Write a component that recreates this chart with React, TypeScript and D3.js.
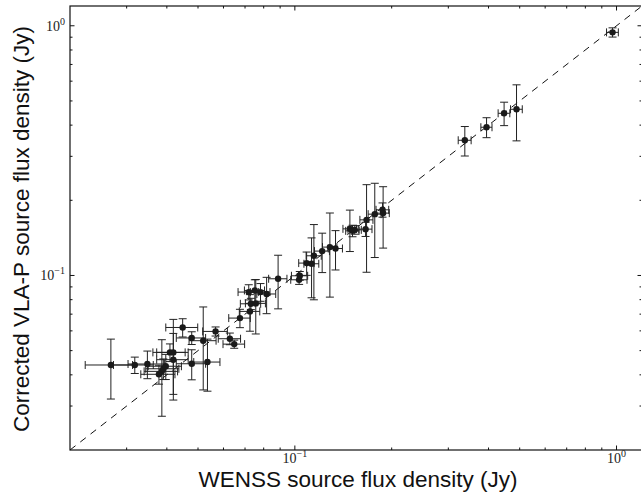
import React, { useEffect, useRef } from "react";
import * as d3 from "d3";

// WENSS flux (x) vs corrected VLA-P flux (y), Jy, with 1-sigma errors
const xVals = [
  0.0268, 0.0318, 0.0348, 0.0378, 0.0386, 0.039, 0.0397, 0.0409, 0.0419, 0.0419,
  0.0448, 0.0478, 0.0478, 0.0519, 0.0535, 0.0567, 0.0628, 0.0648, 0.0675, 0.0725,
  0.073, 0.0756, 0.0719, 0.0751, 0.0782, 0.0817, 0.0887, 0.1036, 0.1031, 0.1088,
  0.1127, 0.1146, 0.1216, 0.1285, 0.1338, 0.1483, 0.1511, 0.1536, 0.1659, 0.1671,
  0.1772, 0.1873, 0.1881, 0.3376, 0.3944, 0.4472, 0.4888, 0.972,
];
const xErrs = [
  0.0045, 0.0045, 0.0045, 0.0046, 0.0046, 0.0046, 0.0047, 0.0047, 0.0047, 0.0047,
  0.0051, 0.005, 0.005, 0.005, 0.005, 0.005, 0.005, 0.005, 0.0052, 0.0053,
  0.0053, 0.0054, 0.0053, 0.0054, 0.0055, 0.0055, 0.0058, 0.006, 0.006, 0.006,
  0.006, 0.0062, 0.0065, 0.0066, 0.0068, 0.0072, 0.0072, 0.0073, 0.0078, 0.0078,
  0.0082, 0.0085, 0.0085, 0.0156, 0.0157, 0.0187, 0.0205, 0.041,
];
const yVals = [
  0.0438, 0.0438, 0.0442, 0.0402, 0.0413, 0.0423, 0.0433, 0.0492, 0.0492, 0.046,
  0.0619, 0.0562, 0.0443, 0.0548, 0.045, 0.0597, 0.0558, 0.0531, 0.0675, 0.0718,
  0.077, 0.0773, 0.0858, 0.0871, 0.0858, 0.0843, 0.097, 0.0997, 0.0961, 0.1121,
  0.1114, 0.1199, 0.1252, 0.1299, 0.1282, 0.1537, 0.1509, 0.1523, 0.1533, 0.167,
  0.176, 0.1832, 0.1777, 0.3479, 0.3923, 0.4462, 0.463, 0.941,
];
const yErrs = [
  0.0118, 0.0033, 0.0056, 0.0035, 0.014, 0.004, 0.005, 0.004, 0.0175, 0.0126,
  0.0052, 0.0033, 0.0061, 0.02, 0.0106, 0.0025, 0.003, 0.002, 0.0057, 0.012,
  0.004, 0.019, 0.006, 0.009, 0.007, 0.014, 0.0235, 0.004, 0.004, 0.012,
  0.03, 0.04, 0.0225, 0.048, 0.023, 0.029, 0.008, 0.006, 0.01, 0.064,
  0.058, 0.012, 0.049, 0.047, 0.036, 0.048, 0.117, 0.04,
];
const majorTicks = [0.1, 1];
const majorLabels = ["\u22121", "0"];
const minorTicks = [0.03, 0.04, 0.05, 0.06, 0.07, 0.08, 0.09, 0.2, 0.3, 0.4, 0.5, 0.6, 0.7, 0.8, 0.9];
const domain = [0.02, 1.2];

export default function App() {
  const svgRef = useRef<SVGSVGElement>(null);

  useEffect(() => {
    const left = 70, right = 642, top = 6, bottom = 450;
    const svg = d3.select(svgRef.current);
    svg.selectAll("*").remove();

    const x = d3.scaleLog().domain(domain).range([left, right]);
    const y = d3.scaleLog().domain(domain).range([bottom, top]);

    // 1:1 line
    svg.append("line")
      .attr("x1", x(domain[0])).attr("y1", y(domain[0]))
      .attr("x2", x(domain[1])).attr("y2", y(domain[1]))
      .attr("stroke", "#111").attr("stroke-width", 1)
      .attr("stroke-dasharray", "7,6");

    const data = xVals.map((v, i) => ({ x: v, xe: xErrs[i], y: yVals[i], ye: yErrs[i] }));
    const cap = 4;
    const bars = svg.append("g").attr("stroke", "#222").attr("stroke-width", 1).attr("fill", "none");
    data.forEach((d) => {
      const cx = x(d.x), cy = y(d.y);
      const y0 = y(d.y - d.ye), y1 = y(d.y + d.ye);
      const x0 = x(d.x - d.xe), x1 = x(d.x + d.xe);
      const path = d3.path();
      path.moveTo(cx, y0); path.lineTo(cx, y1);
      path.moveTo(cx - cap, y0); path.lineTo(cx + cap, y0);
      path.moveTo(cx - cap, y1); path.lineTo(cx + cap, y1);
      path.moveTo(x0, cy); path.lineTo(x1, cy);
      path.moveTo(x0, cy - cap); path.lineTo(x0, cy + cap);
      path.moveTo(x1, cy - cap); path.lineTo(x1, cy + cap);
      bars.append("path").attr("d", path.toString());
    });

    svg.append("g").selectAll("circle").data(data).join("circle")
      .attr("cx", (d) => x(d.x)).attr("cy", (d) => y(d.y))
      .attr("r", 3.2).attr("fill", "#1a1a1a");

    // frame
    svg.append("rect")
      .attr("x", left).attr("y", top)
      .attr("width", right - left).attr("height", bottom - top)
      .attr("fill", "none").attr("stroke", "#111").attr("stroke-width", 1.2);

    // ticks, inside, on all four sides
    const ticks = svg.append("g").attr("stroke", "#111").attr("stroke-width", 1);
    const drawTicks = (vals: number[], len: number) => {
      vals.forEach((v) => {
        const px = x(v), py = y(v);
        ticks.append("line").attr("x1", px).attr("x2", px).attr("y1", bottom).attr("y2", bottom - len);
        ticks.append("line").attr("x1", px).attr("x2", px).attr("y1", top).attr("y2", top + len);
        ticks.append("line").attr("y1", py).attr("y2", py).attr("x1", left).attr("x2", left + len);
        ticks.append("line").attr("y1", py).attr("y2", py).attr("x1", right).attr("x2", right - len);
      });
    };
    drawTicks(majorTicks, 4.5);
    drawTicks(minorTicks, 2.5);

    const tickFont = "'Liberation Serif', serif";
    majorTicks.forEach((v, i) => {
      const tx = svg.append("text")
        .attr("x", x(v)).attr("y", 463)
        .attr("text-anchor", "middle")
        .attr("font-family", tickFont).attr("font-size", 14).attr("fill", "#222");
      tx.append("tspan").text("10");
      tx.append("tspan").attr("dy", -6).attr("font-size", 10).text(majorLabels[i]);

      const ty = svg.append("text")
        .attr("x", 65).attr("y", y(v) + 5)
        .attr("text-anchor", "end")
        .attr("font-family", tickFont).attr("font-size", 14).attr("fill", "#222");
      ty.append("tspan").text("10");
      ty.append("tspan").attr("dy", -6).attr("font-size", 10).text(majorLabels[i]);
    });

    const labelFont = "'Liberation Sans', Arial, sans-serif";
    svg.append("text")
      .attr("x", 358).attr("y", 487)
      .attr("text-anchor", "middle")
      .attr("font-family", labelFont).attr("font-size", 22.5).attr("fill", "#111")
      .text("WENSS source flux density (Jy)");
    svg.append("text")
      .attr("transform", `translate(29, 229) rotate(-90)`)
      .attr("text-anchor", "middle")
      .attr("font-family", labelFont).attr("font-size", 22.5).attr("fill", "#111")
      .text("Corrected VLA-P source flux density (Jy)");
  }, []);

  return (
    <svg
      ref={svgRef}
      width={641}
      height={499}
      style={{ position: "absolute", left: 0, top: 0, background: "#fff" }}
    />
  );
}
